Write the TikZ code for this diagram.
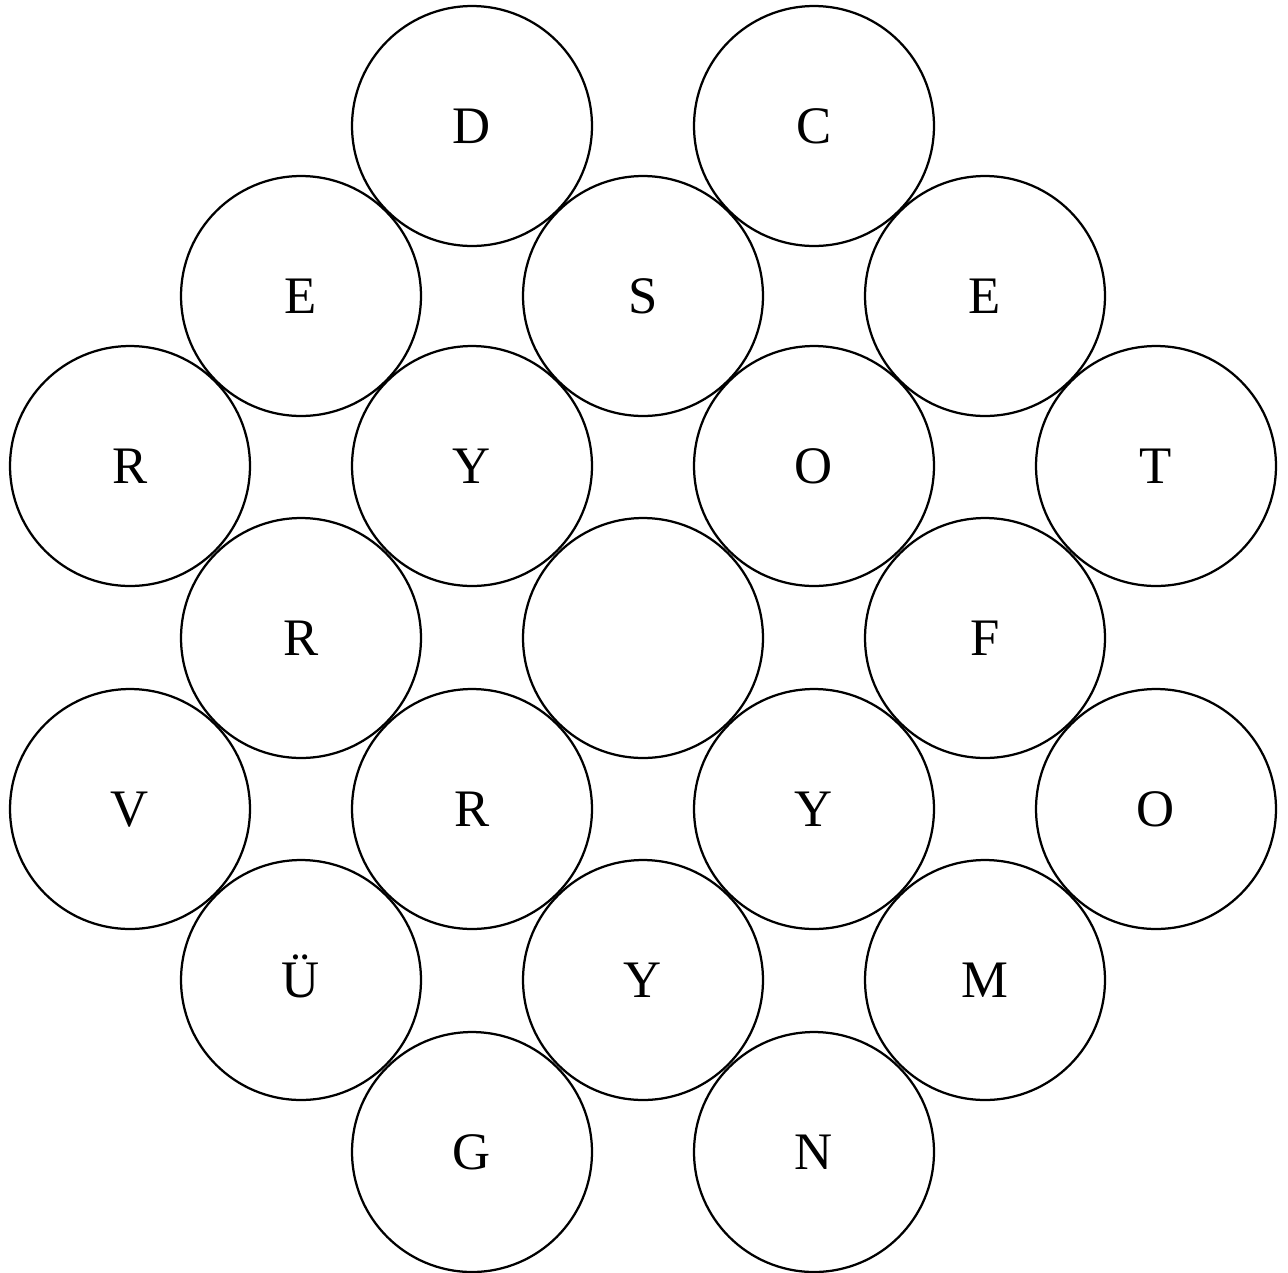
\documentclass[tikz,border=0pt]{standalone}
\usepackage{fontspec}
\setmainfont{Liberation Serif}
\usepackage{tikz}
\usetikzlibrary{positioning}

\tikzset{
    cell/.style={draw, circle, line width=0.045cm, minimum size=4.8cm, inner sep=0pt,
        font=\fontsize{30}{36}\selectfont, text height=0.71cm, text depth=0pt},
}

\begin{document}
\begin{tikzpicture}[x=0.02cm, y=-0.02cm]
    \useasboundingbox (0,0) rectangle (1288,1272);
    % row 1
    \node[cell] (d1) at (472,126) {D};
    \node[cell] (c1) at (814,126) {C};
    % row 2
    \node[cell] (e1) at (301,296) {E};
    \node[cell] (s1) at (643,296) {S};
    \node[cell] (e2) at (985,296) {E};
    % row 3
    \node[cell] (r1) at (130,466) {R};
    \node[cell] (y1) at (472,466) {Y};
    \node[cell] (o1) at (814,466) {O};
    \node[cell] (t1) at (1156,466) {T};
    % row 4
    \node[cell] (r2) at (301,638) {R};
    \node[cell] (mid) at (643,638) {};
    \node[cell] (f1) at (985,638) {F};
    % row 5
    \node[cell] (v1) at (130,809) {V};
    \node[cell] (r3) at (472,809) {R};
    \node[cell] (y2) at (814,809) {Y};
    \node[cell] (o2) at (1156,809) {O};
    % row 6
    \node[cell] (u1) at (301,980) {Ü};
    \node[cell] (y3) at (643,980) {Y};
    \node[cell] (m1) at (985,980) {M};
    % row 7
    \node[cell] (g1) at (472,1152) {G};
    \node[cell] (n1) at (814,1152) {N};

\end{tikzpicture}
\end{document}
